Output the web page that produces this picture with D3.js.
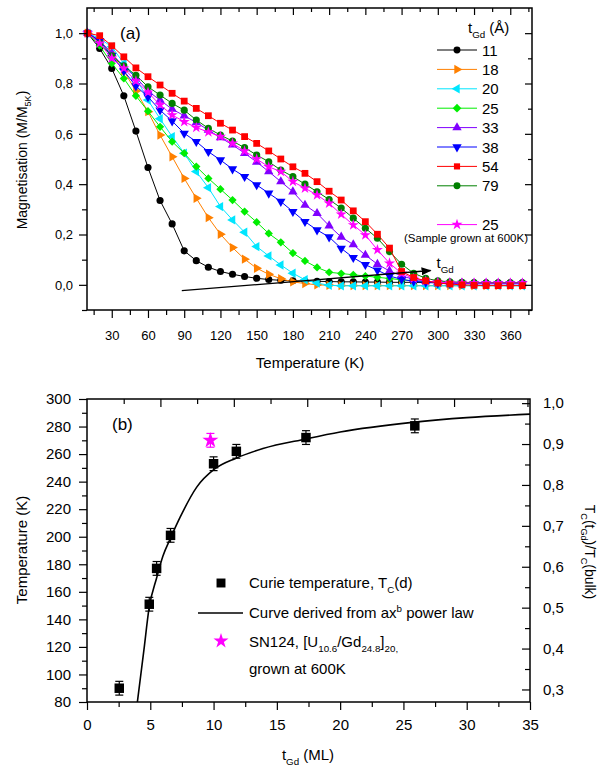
<!DOCTYPE html>
<html lang="en">
<head>
<meta charset="utf-8">
<style>
  body { margin: 0; background: #fff; }
  text { font-family: "Liberation Sans", Arial, Helvetica, sans-serif; fill: #000; }
  .tick line { stroke: #000; stroke-width: 1.2px; }
</style>
<title>Magnetisation and Curie temperature</title>
<script src="https://cdnjs.cloudflare.com/ajax/libs/d3/7.8.5/d3.min.js"></script>
</head>
<body>
<script>

// ---------- panel (a) data: M/M5K vs temperature ----------
var temps = [10,20,30,40,50,60,70,80,90,100,110,120,130,140,150,160,170,180,190,200,
             210,220,230,240,250,260,270,280,290,300,310,320,330,340,350,360,370];

var m11  = [1,.939,.86,.751,.611,.466,.335,.242,.135,.096,.07,.053,.042,.033,.026,.021,.018,.016,.015,.014,
            .013,.012,.012,.011,.011,.01,.01,.01,.009,.009,.009,.009,.008,.008,.008,.008,.008];
var m18  = [1,.97,.92,.85,.77,.688,.595,.509,.423,.344,.267,.201,.148,.102,.066,.042,.024,.012,.005,0,
            -.002,-.003,-.003,-.003,-.003,-.003,-.003,-.003,-.003,-.003,-.003,-.003,-.003,-.003,-.003,-.003,-.003];
var m20  = [1,.979,.946,.88,.823,.734,.66,.589,.523,.45,.386,.311,.258,.209,.152,.115,.079,.046,.02,.007,
            -.002,-.004,-.004,-.004,-.004,-.004,-.004,-.004,-.004,-.004,-.004,-.004,-.004,-.004,-.004,-.004,-.004];
var m25  = [1,.95,.88,.82,.751,.69,.628,.569,.523,.47,.423,.38,.337,.291,.249,.204,.169,.126,.095,.069,
            .05,.045,.04,.035,.03,.025,.02,.016,.013,.011,.01,.009,.008,.007,.006,.006,.006];
var m33  = [1,.97,.92,.866,.825,.77,.734,.698,.672,.645,.615,.585,.556,.523,.488,.45,.41,.37,.317,.284,
            .235,.19,.16,.118,.082,.055,.035,.022,.015,.01,.008,.007,.006,.006,.006,.006,.006];
var m38  = [1,.97,.91,.85,.79,.747,.694,.651,.602,.569,.529,.496,.46,.43,.397,.364,.331,.291,.251,.218,
            .19,.145,.108,.08,.058,.035,.022,.014,.01,.007,.005,.005,.004,.004,.004,.004,.004];
var m54  = [1,.99,.95,.906,.862,.827,.794,.761,.73,.701,.672,.642,.615,.589,.562,.532,.5,.469,.443,.41,
            .372,.337,.294,.251,.201,.146,.053,.029,.016,.007,.003,0,-.002,-.003,-.003,-.003,-.003];
var m79  = [1,.96,.91,.87,.833,.787,.754,.721,.694,.655,.622,.595,.571,.545,.516,.489,.456,.43,.4,.37,
            .339,.305,.265,.225,.185,.132,.082,.046,.026,.016,.012,.01,.009,.008,.008,.008,.008];
var m25b = [1,.96,.9,.86,.81,.765,.715,.675,.648,.625,.607,.589,.562,.532,.5,.469,.45,.41,.384,.357,
            .324,.28,.238,.198,.139,.086,.046,.025,.015,.01,.008,.007,.007,.007,.007,.007,.007];

var seriesNames  = ["11","18","20","25","33","38","54","79","25"];
var seriesValues = [m11, m18, m20, m25, m33, m38, m54, m79, m25b];
var seriesColors = ["#000000","#ff8000","#00e6ff","#00ee00","#8000ff","#0000ff","#ff0000","#008000","#ff00ff"];
var seriesShapes = ["circle","right","left","diamond","up","down","square","circle","star"];

var aTempTicks = [30,60,90,120,150,180,210,240,270,300,330,360];
var aTempMinor = [15,45,75,105,135,165,195,225,255,285,315,345,375];
var aMagTicks  = [0,0.2,0.4,0.6,0.8,1.0];
var aMagMinor  = [-0.1,0.1,0.3,0.5,0.7,0.9];

// arrow "t_Gd" (temperature, magnetisation)
var arrowT = [88, 294];
var arrowM = [-0.023, 0.057];

// ---------- panel (b) data: Curie temperature vs t_Gd ----------
var tGd   = [2.55, 4.92, 5.5, 6.6, 10.0, 11.8, 17.3, 25.9];
var tc    = [90, 151, 177, 201, 253, 262, 272, 280.5];
var tcErr = [5, 5, 5, 5, 5, 5, 5, 5];

var starGd  = [9.75];
var starTc  = [270];
var starErr = [5];

// power-law curve
var fitX = [3.98, 4.5, 4.9, 5.5, 6.0, 6.6, 7.35, 8.67, 10.06, 11.77, 13.9, 17.3, 20, 25.7, 30, 35];
var fitT = [80, 118, 148, 170, 186, 199, 214, 236, 249, 257, 264, 271, 276, 283, 286.5, 289];

var tcBulk = 297;
var bTgdTicks = [0,5,10,15,20,25,30,35];
var bTgdMinor = [2.5,7.5,12.5,17.5,22.5,27.5,32.5];
var bTopTicks = [5.8,11.6,17.4,23.2,29.0,34.8];
var bTopMinor = [2.9,8.7,14.5,20.3,26.1,31.9];
var bTempTicks = [80,100,120,140,160,180,200,220,240,260,280,300];
var bTempMinor = [90,110,130,150,170,190,210,230,250,270,290];
var bRatioTicks = [0.3,0.4,0.5,0.6,0.7,0.8,0.9,1.0];
var bRatioMinor = [0.35,0.45,0.55,0.65,0.75,0.85,0.95];

// ---------------------------------------------------------
var width = 602, height = 767;

var svg = d3.select("body").append("svg")
  .attr("width", width)
  .attr("height", height);

var comma1 = function(d){ return d3.format(".1f")(d).replace(".", ","); };

// text with sub/superscripts: parts = [[string, ""|"sub"|"sup"], ...]
function rich(sel, parts, size) {
  var shift = 0;
  parts.forEach(function(p){
    var target = p[1] === "sub" ? size * 0.3 : (p[1] === "sup" ? -size * 0.4 : 0);
    sel.append("tspan")
      .attr("dy", target - shift)
      .style("font-size", p[1] ? (size * 0.65) + "px" : size + "px")
      .text(p[0]);
    shift = target;
  });
}

function symbolPath(shape, area) {
  if (shape === "circle")  return { d: d3.symbol(d3.symbolCircle, area)(), rot: 0 };
  if (shape === "square")  return { d: d3.symbol(d3.symbolSquare, area)(), rot: 0 };
  if (shape === "diamond") return { d: d3.symbol(d3.symbolSquare, area)(), rot: 45 };
  if (shape === "star")    return { d: d3.symbol(d3.symbolStar, area)(), rot: 0 };
  var rot = { up: 0, right: 90, down: 180, left: -90 }[shape];
  return { d: d3.symbol(d3.symbolTriangle, area)(), rot: rot };
}

function addMarker(g, shape, color, area, x, y) {
  var s = symbolPath(shape, area);
  g.append("path")
    .attr("d", s.d)
    .attr("fill", color)
    .attr("transform", "translate(" + x + "," + y + ") rotate(" + s.rot + ")");
}

function styleAxis(g, size) {
  g.select(".domain").remove();
  g.selectAll("text").style("font-size", size + "px");
}

// =================== panel (a) ===================
var xA = d3.scaleLinear().domain([9.5, 378]).range([87, 532]);
var yA = d3.scaleLinear().domain([-0.1, 1.1]).range([310, 8]);

var pa = svg.append("g");

// data
var lineA = d3.line()
  .x(function(d){ return xA(d[0]); })
  .y(function(d){ return yA(d[1]); });

var drawOrder = [0,1,2,3,4,5,7,8,6];
drawOrder.forEach(function(i){
  var pts = temps.map(function(t, j){ return [t, seriesValues[i][j]]; });
  pa.append("path")
    .attr("d", lineA(pts))
    .attr("fill", "none")
    .attr("stroke", seriesColors[i])
    .attr("stroke-width", 1);
  var area = seriesShapes[i] === "square" ? 46 : (seriesShapes[i] === "circle" ? 40 : (seriesShapes[i] === "diamond" ? 34 : 38));
  pts.forEach(function(p){
    addMarker(pa, seriesShapes[i], seriesColors[i], area, xA(p[0]), yA(p[1]));
  });
});

// arrow
svg.append("defs").append("marker")
  .attr("id", "arrowhead")
  .attr("viewBox", "0 0 10 10")
  .attr("refX", 9).attr("refY", 5)
  .attr("markerWidth", 10).attr("markerHeight", 10)
  .attr("markerUnits", "userSpaceOnUse")
  .attr("orient", "auto")
  .append("path").attr("d", "M0,1 L10,5 L0,9 Z").attr("fill", "#000");

pa.append("line")
  .attr("x1", xA(arrowT[0])).attr("y1", yA(arrowM[0]))
  .attr("x2", xA(arrowT[1])).attr("y2", yA(arrowM[1]))
  .attr("stroke", "#000").attr("stroke-width", 1.3)
  .attr("marker-end", "url(#arrowhead)");

rich(pa.append("text").attr("x", xA(arrowT[1]) + 6).attr("y", yA(arrowM[1]) - 2),
     [["t", ""], ["Gd", "sub"]], 15);

// axes
pa.append("g").attr("transform", "translate(0,310)")
  .call(d3.axisBottom(xA).tickValues(aTempTicks).tickSize(8).tickPadding(13).tickFormat(d3.format("d")))
  .call(styleAxis, 13);
pa.append("g").attr("transform", "translate(0,310)")
  .call(d3.axisBottom(xA).tickValues(aTempMinor).tickSize(5).tickFormat(""))
  .call(styleAxis, 13);
pa.append("g").attr("transform", "translate(0,8)")
  .call(d3.axisTop(xA).tickValues(aTempTicks).tickSize(-7).tickFormat(""))
  .call(styleAxis, 13);
pa.append("g").attr("transform", "translate(0,8)")
  .call(d3.axisTop(xA).tickValues(aTempMinor).tickSize(-4).tickFormat(""))
  .call(styleAxis, 13);
pa.append("g").attr("transform", "translate(87,0)")
  .call(d3.axisLeft(yA).tickValues(aMagTicks).tickSize(8).tickPadding(6).tickFormat(comma1))
  .call(styleAxis, 13);
pa.append("g").attr("transform", "translate(87,0)")
  .call(d3.axisLeft(yA).tickValues(aMagMinor).tickSize(5).tickFormat(""))
  .call(styleAxis, 13);
pa.append("g").attr("transform", "translate(532,0)")
  .call(d3.axisRight(yA).tickValues(aMagTicks).tickSize(-7).tickFormat(""))
  .call(styleAxis, 13);
pa.append("g").attr("transform", "translate(532,0)")
  .call(d3.axisRight(yA).tickValues(aMagMinor).tickSize(-4).tickFormat(""))
  .call(styleAxis, 13);

pa.append("rect")
  .attr("x", 87).attr("y", 8).attr("width", 445).attr("height", 302)
  .attr("fill", "none").attr("stroke", "#000").attr("stroke-width", 1.5);

pa.append("text").attr("x", 120).attr("y", 39).style("font-size", "17px").text("(a)");

pa.append("text").attr("x", 310).attr("y", 368).attr("text-anchor", "middle")
  .style("font-size", "15px").text("Temperature (K)");

rich(pa.append("text").attr("transform", "translate(27,160) rotate(-90)").attr("text-anchor", "middle"),
     [["Magnetisation (M/M", ""], ["5K", "sub"], [")", ""]], 14);

// legend (a)
rich(pa.append("text").attr("x", 468).attr("y", 33),
     [["t", ""], ["Gd", "sub"], [" (\u00c5)", ""]], 15);

var legRows = [0,1,2,3,4,5,6,7,9];
legRows.forEach(function(row, i){
  var y = 50 + row * 19.4;
  pa.append("line")
    .attr("x1", 437).attr("x2", 477).attr("y1", y).attr("y2", y)
    .attr("stroke", seriesColors[i]).attr("stroke-width", 1);
  addMarker(pa, seriesShapes[i], seriesColors[i], 38, 457, y);
  pa.append("text").attr("x", 482).attr("y", y + 5.5).style("font-size", "15px").text(seriesNames[i]);
});
pa.append("text").attr("x", 404).attr("y", 242).style("font-size", "11.5px").text("(Sample grown at 600K)");

// =================== panel (b) ===================
var xB = d3.scaleLinear().domain([0, 35]).range([87, 530]);
var yB = d3.scaleLinear().domain([80, 300]).range([702, 399]);
var yR = d3.scaleLinear().domain([80 / tcBulk, 300 / tcBulk]).range([702, 399]);

var pb = svg.append("g");

// fit curve
var curveB = d3.line()
  .x(function(d){ return xB(d[0]); })
  .y(function(d){ return yB(d[1]); })
  .curve(d3.curveMonotoneX);
pb.append("path")
  .attr("d", curveB(fitX.map(function(x, i){ return [x, fitT[i]]; })))
  .attr("fill", "none").attr("stroke", "#000").attr("stroke-width", 1.6);

// error bars + squares
tGd.forEach(function(x, i){
  var cx = xB(x);
  var g = pb.append("g");
  g.append("line").attr("x1", cx).attr("x2", cx)
    .attr("y1", yB(tc[i] - tcErr[i])).attr("y2", yB(tc[i] + tcErr[i]))
    .attr("stroke", "#000").attr("stroke-width", 1.2);
  [tc[i] - tcErr[i], tc[i] + tcErr[i]].forEach(function(v){
    g.append("line").attr("x1", cx - 4).attr("x2", cx + 4)
      .attr("y1", yB(v)).attr("y2", yB(v))
      .attr("stroke", "#000").attr("stroke-width", 1.2);
  });
  addMarker(g, "square", "#000", 90, cx, yB(tc[i]));
});

starGd.forEach(function(x, i){
  var cx = xB(x);
  pb.append("line").attr("x1", cx).attr("x2", cx)
    .attr("y1", yB(starTc[i] - starErr[i])).attr("y2", yB(starTc[i] + starErr[i]))
    .attr("stroke", "#ff00ff").attr("stroke-width", 1.2);
  [starTc[i] - starErr[i], starTc[i] + starErr[i]].forEach(function(v){
    pb.append("line").attr("x1", cx - 4).attr("x2", cx + 4)
      .attr("y1", yB(v)).attr("y2", yB(v))
      .attr("stroke", "#ff00ff").attr("stroke-width", 1.2);
  });
  addMarker(pb, "star", "#ff00ff", 80, cx, yB(starTc[i]));
});

// axes
pb.append("g").attr("transform", "translate(0,702)")
  .call(d3.axisBottom(xB).tickValues(bTgdTicks).tickSize(8).tickPadding(9).tickFormat(d3.format("d")))
  .call(styleAxis, 15);
pb.append("g").attr("transform", "translate(0,702)")
  .call(d3.axisBottom(xB).tickValues(bTgdMinor).tickSize(5).tickFormat(""))
  .call(styleAxis, 15);
pb.append("g").attr("transform", "translate(0,399)")
  .call(d3.axisTop(xB).tickValues(bTopTicks).tickSize(-8).tickFormat(""))
  .call(styleAxis, 15);
pb.append("g").attr("transform", "translate(0,399)")
  .call(d3.axisTop(xB).tickValues(bTopMinor).tickSize(-5).tickFormat(""))
  .call(styleAxis, 15);
pb.append("g").attr("transform", "translate(87,0)")
  .call(d3.axisLeft(yB).tickValues(bTempTicks).tickSize(8).tickPadding(8).tickFormat(d3.format("d")))
  .call(styleAxis, 15);
pb.append("g").attr("transform", "translate(87,0)")
  .call(d3.axisLeft(yB).tickValues(bTempMinor).tickSize(5).tickFormat(""))
  .call(styleAxis, 15);
pb.append("g").attr("transform", "translate(530,0)")
  .call(d3.axisRight(yR).tickValues(bRatioTicks).tickSize(-8).tickPadding(13).tickFormat(comma1))
  .call(styleAxis, 15);
pb.append("g").attr("transform", "translate(530,0)")
  .call(d3.axisRight(yR).tickValues(bRatioMinor).tickSize(-5).tickFormat(""))
  .call(styleAxis, 15);

pb.append("rect")
  .attr("x", 87).attr("y", 399).attr("width", 443).attr("height", 303)
  .attr("fill", "none").attr("stroke", "#000").attr("stroke-width", 1.5);

pb.append("text").attr("x", 112).attr("y", 430).style("font-size", "17px").text("(b)");

rich(pb.append("text").attr("x", 308).attr("y", 760).attr("text-anchor", "middle"),
     [["t", ""], ["Gd", "sub"], [" (ML)", ""]], 15);

pb.append("text").attr("transform", "translate(27,550) rotate(-90)").attr("text-anchor", "middle")
  .style("font-size", "15px").text("Temperature (K)");

rich(pb.append("text").attr("transform", "translate(585,552) rotate(90)").attr("text-anchor", "middle"),
     [["T", ""], ["C", "sub"], ["(t", ""], ["Gd", "sub"], [")/T", ""], ["C", "sub"], ["(bulk)", ""]], 14);

// legend (b)
addMarker(pb, "square", "#000", 80, 221, 583);
rich(pb.append("text").attr("x", 249).attr("y", 588),
     [["Curie temperature, T", ""], ["C", "sub"], ["(d)", ""]], 15);
pb.append("line").attr("x1", 198).attr("x2", 243).attr("y1", 613).attr("y2", 613)
  .attr("stroke", "#000").attr("stroke-width", 1.6);
rich(pb.append("text").attr("x", 249).attr("y", 618),
     [["Curve derived from ax", ""], ["b", "sup"], [" power law", ""]], 15);
addMarker(pb, "star", "#ff00ff", 70, 221, 641);
rich(pb.append("text").attr("x", 249).attr("y", 647),
     [["SN124, [U", ""], ["10.6", "sub"], ["/Gd", ""], ["24.8", "sub"], ["]", ""], ["20", "sub"], [",", "sub"]], 15);
pb.append("text").attr("x", 249).attr("y", 674).style("font-size", "15px").text("grown at 600K");

</script>
</body>
</html>
